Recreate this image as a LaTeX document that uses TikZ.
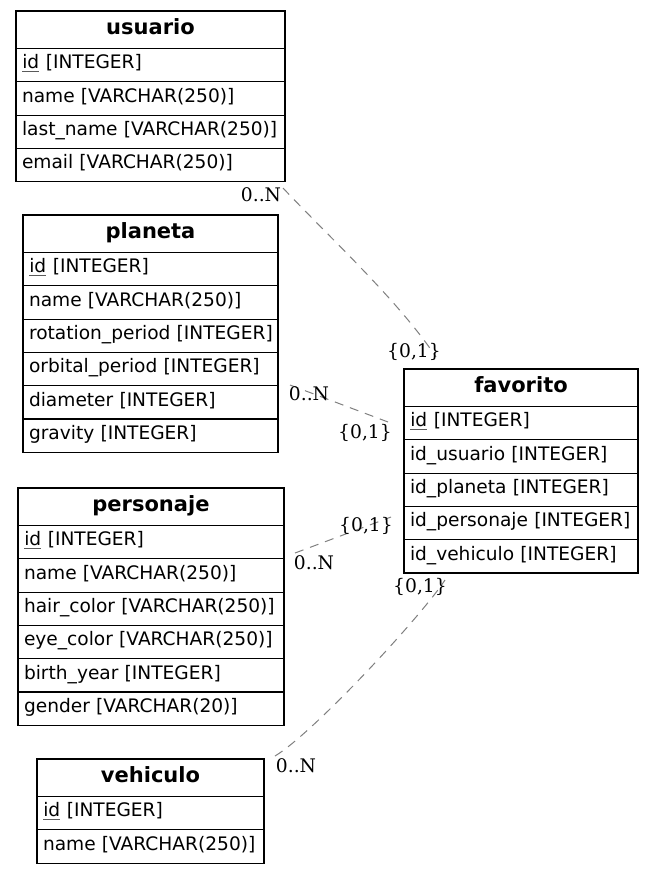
\documentclass[tikz,border=0pt]{standalone}
\usepackage{fontspec}
\newfontfamily\tabfont{DejaVu Sans}
\newfontfamily\lblfont{DejaVu Serif}
\definecolor{edgegray}{RGB}{128,128,128}
\definecolor{ulgray}{RGB}{90,90,90}
\tikzset{
  cell/.style={draw=black, line width=1.1pt, anchor=north west, inner xsep=6pt, inner ysep=0pt, outer sep=0pt},
  ttl/.style={cell, align=center, minimum height=37.5pt, font=\tabfont\bfseries\fontsize{21}{25}\selectfont, text height=15.4pt, text depth=6pt},
  fld/.style={cell, align=left, minimum height=33.3pt, font=\tabfont\fontsize{18.6}{22}\selectfont, text height=13.6pt, text depth=6pt},
  rel/.style={draw=edgegray, line width=1pt, dash pattern=on 9pt off 7pt},
  lbl/.style={font=\lblfont\fontsize{18.7}{22}\selectfont, inner sep=0pt, text=black}
}
\newcommand{\pk}{\tikz[baseline=0pt]{\node[inner sep=0pt, anchor=base west] (pkid) {id};\draw[ulgray, line width=0.6pt] ([yshift=-2.2pt]pkid.base west) -- ([yshift=-2.2pt]pkid.base east);}}
\newcommand{\ct}[1]{\mbox{#1}}
\begin{document}
\begin{tikzpicture}[x=1pt,y=-1pt]
\useasboundingbox[fill=white] (0,0) rectangle (653,875);

% usuario
\node[ttl, text width=257pt] (usuario-t) at (16,11) {usuario};
\node[fld, text width=257pt] (usuario-1) at (usuario-t.south west) {\ct{\pk{} [INTEGER]}};
\node[fld, text width=257pt] (usuario-2) at (usuario-1.south west) {\ct{name [VARCHAR(250)]}};
\node[fld, text width=257pt] (usuario-3) at (usuario-2.south west) {\ct{last\_name [VARCHAR(250)]}};
\node[fld, text width=257pt] (usuario-4) at (usuario-3.south west) {\ct{email [VARCHAR(250)]}};

% planeta
\node[ttl, text width=243pt] (planeta-t) at (23,215) {planeta};
\node[fld, text width=243pt] (planeta-1) at (planeta-t.south west) {\ct{\pk{} [INTEGER]}};
\node[fld, text width=243pt] (planeta-2) at (planeta-1.south west) {\ct{name [VARCHAR(250)]}};
\node[fld, text width=243pt] (planeta-3) at (planeta-2.south west) {\ct{rotation\_period [INTEGER]}};
\node[fld, text width=243pt] (planeta-4) at (planeta-3.south west) {\ct{orbital\_period [INTEGER]}};
\node[fld, text width=243pt] (planeta-5) at (planeta-4.south west) {\ct{diameter [INTEGER]}};
\node[fld, text width=243pt] (planeta-6) at (planeta-5.south west) {\ct{gravity [INTEGER]}};

% personaje
\node[ttl, text width=254pt] (personaje-t) at (18,488) {personaje};
\node[fld, text width=254pt] (personaje-1) at (personaje-t.south west) {\ct{\pk{} [INTEGER]}};
\node[fld, text width=254pt] (personaje-2) at (personaje-1.south west) {\ct{name [VARCHAR(250)]}};
\node[fld, text width=254pt] (personaje-3) at (personaje-2.south west) {\ct{hair\_color [VARCHAR(250)]}};
\node[fld, text width=254pt] (personaje-4) at (personaje-3.south west) {\ct{eye\_color [VARCHAR(250)]}};
\node[fld, text width=254pt] (personaje-5) at (personaje-4.south west) {\ct{birth\_year [INTEGER]}};
\node[fld, text width=254pt] (personaje-6) at (personaje-5.south west) {\ct{gender [VARCHAR(20)]}};

% vehiculo
\node[ttl, text width=215pt] (vehiculo-t) at (37,759) {vehiculo};
\node[fld, text width=215pt] (vehiculo-1) at (vehiculo-t.south west) {\ct{\pk{} [INTEGER]}};
\node[fld, text width=215pt] (vehiculo-2) at (vehiculo-1.south west) {\ct{name [VARCHAR(250)]}};

% favorito
\node[ttl, text width=222pt] (favorito-t) at (404,369) {favorito};
\node[fld, text width=222pt] (favorito-1) at (favorito-t.south west) {\ct{\pk{} [INTEGER]}};
\node[fld, text width=222pt] (favorito-2) at (favorito-1.south west) {\ct{id\_usuario [INTEGER]}};
\node[fld, text width=222pt] (favorito-3) at (favorito-2.south west) {\ct{id\_planeta [INTEGER]}};
\node[fld, text width=222pt] (favorito-4) at (favorito-3.south west) {\ct{id\_personaje [INTEGER]}};
\node[fld, text width=222pt] (favorito-5) at (favorito-4.south west) {\ct{id\_vehiculo [INTEGER]}};

% connector end points
\coordinate (u-end) at (283,188);
\coordinate (fu-end) at (436,357);
\coordinate (p-end) at (290,385);
\coordinate (fp-end) at (388,422);
\coordinate (c-end) at (295,553);
\coordinate (fc-end) at (391,517);
\coordinate (v-end) at (275,756);
\coordinate (fv-end) at (445,580);

\draw[rel] (u-end) .. controls (328,236) and (398,300) .. (fu-end);
\draw[rel] (p-end) -- (fp-end);
\draw[rel] (c-end) -- (fc-end);
\draw[rel] (v-end) .. controls (312,734) and (420,618) .. (fv-end);

% labels
\node[lbl] (l-u) at (261,195) {0..N};
\node[lbl] (l-fu) at (414,352) {\{0,1\}};
\node[lbl] (l-p) at (309,394) {0..N};
\node[lbl] (l-fp) at (365,433) {\{0,1\}};
\node[lbl] (l-fc) at (366,526) {\{0,1\}};
\node[lbl] (l-c) at (314,563) {0..N};
\node[lbl] (l-fv) at (420,587) {\{0,1\}};
\node[lbl] (l-v) at (296,766) {0..N};
\end{tikzpicture}
\end{document}
